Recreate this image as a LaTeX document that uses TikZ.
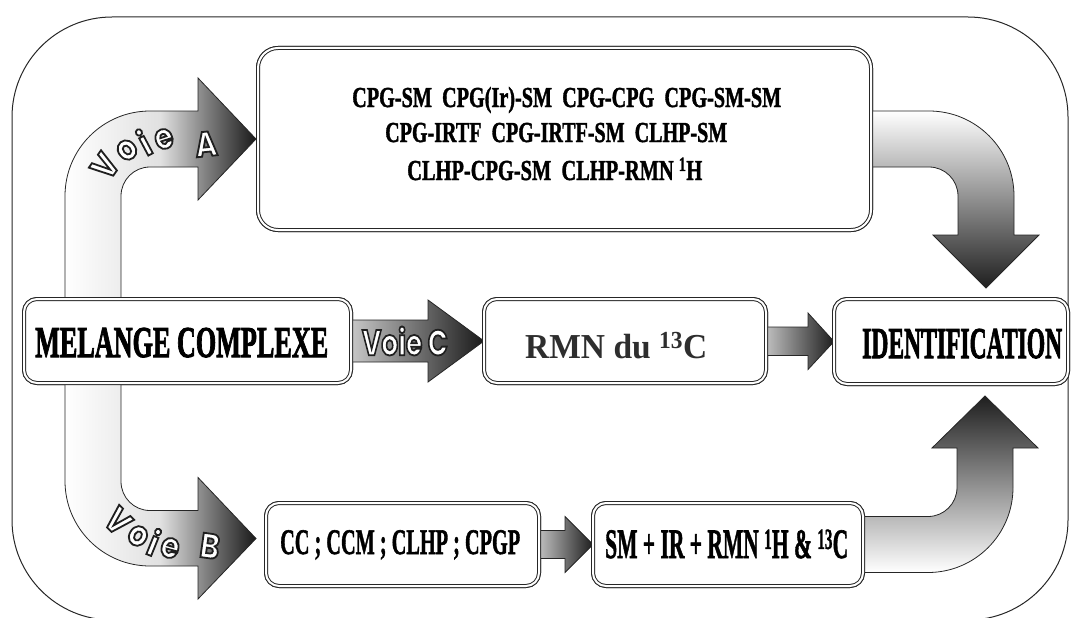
\documentclass[tikz,border=0pt]{standalone}
\usepackage{graphicx}
\usepackage{fontspec}
\setmainfont{Liberation Serif}
\newfontfamily\heavy{Liberation Serif}[BoldFeatures={FakeBold=1.6}]
\newfontfamily\heavier{Liberation Serif}[BoldFeatures={FakeBold=2.4}]
\newfontfamily\voiefont{Poppins}[FakeStretch=0.85]
\usetikzlibrary{calc}
\newcommand{\vl}[1]{\textcolor{white}{\special{pdf:literal direct 2 Tr 1.8 w 0.12 G}#1\special{pdf:literal direct 0 Tr}}}
\newcommand{\fitw}[2]{\resizebox{#1}{\height}{#2}}
\pgfdeclarehorizontalshading{shH}{100bp}{color(0bp)=(white); color(25bp)=(white); color(50bp)=(black!12); color(62bp)=(black!50); color(75bp)=(black!90); color(100bp)=(black!90)}
\begin{document}
\begin{tikzpicture}[x=1pt,y=-1pt,
  box/.style={draw=black!85, line width=1pt, double=white, double distance=2pt, fill=white, rounded corners=13pt, inner sep=0pt, outer sep=0pt},
  arr/.style={draw=black!85, line width=0.8pt},
  lbl/.style={inner sep=0pt, anchor=base west},
  vletter/.style={inner sep=0pt, font=\voiefont\bfseries\fontsize{35}{35}\selectfont}
]
\useasboundingbox (0,0) rectangle (1073,618);
% outer frame
\draw[line width=1pt, black!85, rounded corners=100pt] (12,17) rectangle (1068,620);

% boxes (positions)
\path
  node[box, rounded corners=20pt, minimum width=613pt, minimum height=182pt] (A) at (564.5,139) {}
  node[box, minimum width=327pt, minimum height=84pt] (mel) at (187.5,341) {}
  node[box, minimum width=282pt, minimum height=84pt] (rmn) at (625,341) {}
  node[box, minimum width=234pt, minimum height=85pt] (id) at (951,341.5) {}
  node[box, minimum width=273pt, minimum height=83pt] (cc) at (402.5,544.5) {}
  node[box, minimum width=270pt, minimum height=83pt] (sm) at (728,544.5) {};

% Voie A
\shade[arr, shading=shH] ($(mel.north west)+(41,0)$) -- ++(0,-103)
  arc[start angle=180,end angle=270,radius=85] -- ++(48,0) -- ++(0,-33)
  -- ($(A.west)+(-2,0)$) -- ++(-58,61) -- ++(0,-33) -- ++(-48,0)
  arc[start angle=270,end angle=180,radius=29] -- ++(0,103) -- cycle;
% Voie B
\shade[arr, shading=shH] ($(mel.south west)+(41,0)$) -- ++(0,98)
  arc[start angle=180,end angle=90,radius=85] -- ++(48,0) -- ++(0,33)
  -- ($(cc.west)+(-10,-6)$) -- ++(-58,-61) -- ++(0,33) -- ++(-48,0)
  arc[start angle=90,end angle=180,radius=29] -- ++(0,-98) -- cycle;
% A -> identification
\shade[arr, top color=white, middle color=black!18, bottom color=black!88]
  ($(A.east)+(0,-28)$) -- ++(58,0)
  arc[start angle=270,end angle=360,radius=85] -- ++(0,39) -- ++(25,0)
  -- ($(id.north)+(35,-11)$) -- ++(-53,-53) -- ++(25,0) -- ++(0,-39)
  arc[start angle=0,end angle=-90,radius=29] -- ++(-58,0) -- cycle;
% SM -> identification
\shade[arr, bottom color=white, middle color=black!18, top color=black!88]
  ($(sm.east)+(0,28)$) -- ++(65,0)
  arc[start angle=90,end angle=0,radius=85] -- ++(0,-39.5) -- ++(25,0)
  -- ($(id.south)+(34,12)$) -- ++(-53,52) -- ++(25,0) -- ++(0,39.5)
  arc[start angle=0,end angle=90,radius=29] -- ++(-65,0) -- cycle;
% Voie C
\shade[arr, left color=black!22, right color=black!90]
  ($(mel.east)+(0,-21)$) -- ++(77,0) -- ++(0,-20) -- (rmn.west)
  -- ++(-56,41) -- ++(0,-20) -- ++(-77,0) -- cycle;
% RMN -> ID
\shade[arr, left color=black!25, right color=black!88]
  ($(rmn.east)+(0,-14)$) -- ++(42,0) -- ++(0,-14) -- (id.west)
  -- ++(-26,28) -- ++(0,-14) -- ++(-42,0) -- cycle;
% CC -> SM
\shade[arr, left color=black!25, right color=black!88]
  ($(cc.east)+(0,-14)$) -- ++(26,0) -- ++(0,-14) -- (sm.west)
  -- ++(-28,28) -- ++(0,-14) -- ++(-26,0) -- cycle;

% redraw boxes on top
\path
  node[box, rounded corners=20pt, minimum width=613pt, minimum height=182pt] at (A) {}
  node[box, minimum width=327pt, minimum height=84pt] at (mel) {}
  node[box, minimum width=282pt, minimum height=84pt] at (rmn) {}
  node[box, minimum width=234pt, minimum height=85pt] at (id) {}
  node[box, minimum width=273pt, minimum height=83pt] at (cc) {}
  node[box, minimum width=270pt, minimum height=83pt] at (sm) {};

% texts
\node[lbl] (a1) at (352,107) {\fitw{429pt}{\heavy\fontsize{29}{29}\selectfont\bfseries CPG-SM\ \ CPG(Ir)-SM\ \ CPG-CPG\ \ CPG-SM-SM}};
\node[lbl] (a2) at (385,142) {\fitw{342pt}{\heavy\fontsize{29}{29}\selectfont\bfseries CPG-IRTF\ \ CPG-IRTF-SM\ \ CLHP-SM}};
\node[lbl] (a3) at (407,180) {\fitw{295pt}{\heavy\fontsize{29}{29}\selectfont\bfseries CLHP-CPG-SM\ \ CLHP-RMN \textsuperscript{1}H}};
\node[lbl] (melT) at (35,357) {\fitw{293pt}{\heavier\fontsize{44}{44}\selectfont\bfseries MELANGE COMPLEXE}};
\node[lbl] (idT) at (862,358) {\fitw{200pt}{\heavier\fontsize{44}{44}\selectfont\bfseries IDENTIFICATION}};
\node[lbl] (rmnT) at (525,358) {\fitw{182pt}{\color{black!82}\fontsize{35}{35}\selectfont\bfseries RMN du \textsuperscript{13}C}};
\node[lbl] (ccT) at (280,554) {\fitw{240pt}{\heavy\fontsize{36}{36}\selectfont\bfseries CC ; CCM ; CLHP ; CPGP}};
\node[lbl] (smT) at (605,558) {\fitw{243pt}{\heavy\fontsize{42}{42}\selectfont\bfseries SM + IR + RMN \textsuperscript{1}H \& \textsuperscript{13}C}};

% Voie labels
\node[vletter] (vc) at (405,341) {\fitw{86pt}{\fontsize{36}{36}\selectfont\vl{Voie C}}};
\node[vletter, rotate=55] (vaV) at (105,166) {\vl{V}};
\node[vletter, rotate=40] (vao) at (127,150) {\vl{o}};
\node[vletter, rotate=28] (vai) at (144,142) {\vl{i}};
\node[vletter, rotate=18] (vae) at (164,139) {\vl{e}};
\node[vletter, rotate=6] (vaA) at (206,144) {\vl{A}};
\node[vletter, rotate=-45] (vbV) at (118,521) {\vl{V}};
\node[vletter, rotate=-30] (vbo) at (138,536) {\vl{o}};
\node[vletter, rotate=-22] (vbi) at (154,542) {\vl{i}};
\node[vletter, rotate=-15] (vbe) at (170,548) {\vl{e}};
\node[vletter, rotate=-8] (vbB) at (210,546) {\vl{B}};
\end{tikzpicture}
\end{document}
